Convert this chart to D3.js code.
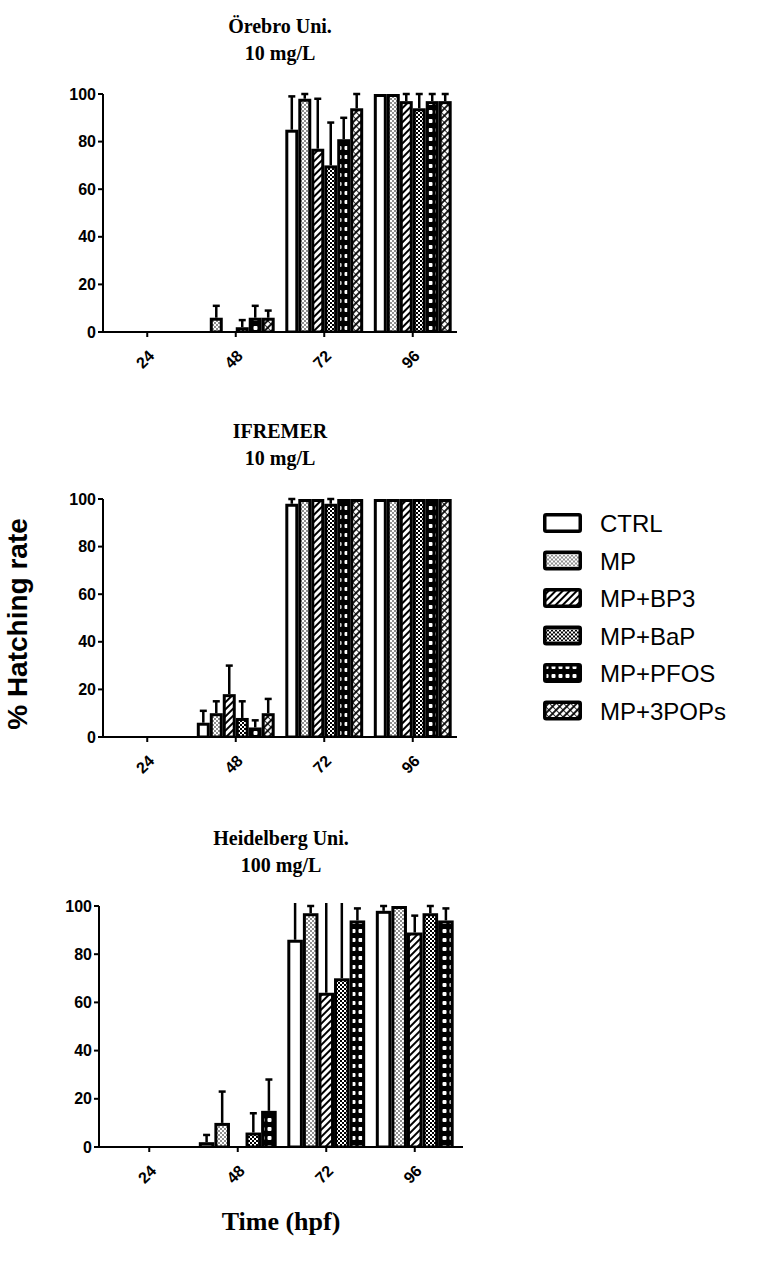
<!DOCTYPE html>
<html>
<head>
<meta charset="utf-8">
<script src="https://cdn.jsdelivr.net/npm/d3@7"></script>
<style>
  body { margin: 0; background: #fff; }
  svg { display: block; }
</style>
</head>
<body>
<svg id="chart" width="765" height="1264"></svg>
<script>
// ─── DATA ───
const TIMES = ['24', '48', '72', '96'];
const TREATMENTS = ['CTRL', 'MP', 'MP+BP3', 'MP+BaP', 'MP+PFOS', 'MP+3POPs'];
const Y_TICKS = [0, 20, 40, 60, 80, 100];

// Örebro Uni. 10 mg/L — mean per treatment across TIMES, and upper error
const orebroMean = [
  [0, 0, 85, 100],
  [0, 6, 98, 100],
  [0, 0, 77, 97],
  [0, 2, 70, 94],
  [0, 6, 81, 97],
  [0, 6, 94, 97]
];
const orebroErr = [
  [0, 0, 14, 0],
  [0, 5, 2, 0],
  [0, 0, 21, 3],
  [0, 3, 18, 6],
  [0, 5, 9, 3],
  [0, 3, 6, 3]
];

// IFREMER 10 mg/L
const ifremerMean = [
  [0, 6, 98, 100],
  [0, 10, 100, 100],
  [0, 18, 100, 100],
  [0, 8, 98, 100],
  [0, 4, 100, 100],
  [0, 10, 100, 100]
];
const ifremerErr = [
  [0, 5, 2, 0],
  [0, 5, 0, 0],
  [0, 12, 0, 0],
  [0, 7, 2, 0],
  [0, 3, 0, 0],
  [0, 6, 0, 0]
];

// Heidelberg Uni. 100 mg/L (no MP+3POPs)
const heidelbergMean = [
  [0, 2, 86, 98],
  [0, 10, 97, 100],
  [0, 0, 64, 89],
  [0, 6, 70, 97],
  [0, 15, 94, 94]
];
const heidelbergErr = [
  [0, 3, 20, 2],
  [0, 13, 3, 0],
  [0, 0, 45, 7],
  [0, 8, 40, 3],
  [0, 13, 5, 5]
];

// ─── LAYOUT ───
const SANS = 'Arial, "Liberation Sans", sans-serif';
const SERIF = '"Times New Roman", "Liberation Serif", serif';
const BAR_STROKE = 3;

const PANELS = [
  { title: ['Örebro Uni.', '10 mg/L'], mean: orebroMean, err: orebroErr, n: 6,
    titleY: 33, top: 94, bottom: 332, axisL: 103, axisR: 457, bandL: 103, bandR: 457 },
  { title: ['IFREMER', '10 mg/L'], mean: ifremerMean, err: ifremerErr, n: 6,
    titleY: 438, top: 499, bottom: 737, axisL: 103, axisR: 457, bandL: 103, bandR: 457 },
  { title: ['Heidelberg Uni.', '100 mg/L'], mean: heidelbergMean, err: heidelbergErr, n: 5,
    titleY: 845, top: 906, bottom: 1147, axisL: 99, axisR: 463, bandL: 105, bandR: 459 }
];

const svg = d3.select('#chart');
svg.append('rect').attr('width', 765).attr('height', 1264).attr('fill', '#fff');

// ─── PATTERNS ───
const defs = svg.append('defs');

const pMP = defs.append('pattern').attr('id', 'pat-1').attr('patternUnits', 'userSpaceOnUse')
  .attr('width', 4).attr('height', 4);
pMP.append('rect').attr('width', 4).attr('height', 4).attr('fill', '#fff');
pMP.append('circle').attr('cx', 1).attr('cy', 1).attr('r', 0.8).attr('fill', '#000');
pMP.append('circle').attr('cx', 3).attr('cy', 3).attr('r', 0.8).attr('fill', '#000');

const pBP3 = defs.append('pattern').attr('id', 'pat-2').attr('patternUnits', 'userSpaceOnUse')
  .attr('width', 5).attr('height', 5).attr('patternTransform', 'rotate(45)');
pBP3.append('rect').attr('width', 5).attr('height', 5).attr('fill', '#fff');
pBP3.append('line').attr('x1', 1).attr('x2', 1).attr('y1', 0).attr('y2', 5)
  .attr('stroke', '#000').attr('stroke-width', 2);

const pBaP = defs.append('pattern').attr('id', 'pat-3').attr('patternUnits', 'userSpaceOnUse')
  .attr('width', 4).attr('height', 4);
pBaP.append('rect').attr('width', 4).attr('height', 4).attr('fill', '#fff');
pBaP.append('rect').attr('width', 2).attr('height', 2).attr('fill', '#000');
pBaP.append('rect').attr('x', 2).attr('y', 2).attr('width', 2).attr('height', 2).attr('fill', '#000');

const pPFOS = defs.append('pattern').attr('id', 'pat-4').attr('patternUnits', 'userSpaceOnUse')
  .attr('width', 7).attr('height', 9);
pPFOS.append('rect').attr('width', 7).attr('height', 9).attr('fill', '#000');
pPFOS.append('rect').attr('x', 1.5).attr('y', 2).attr('width', 4).attr('height', 4)
  .attr('rx', 1).attr('fill', '#fff');

const p3P = defs.append('pattern').attr('id', 'pat-5').attr('patternUnits', 'userSpaceOnUse')
  .attr('width', 5).attr('height', 5).attr('patternTransform', 'rotate(45)');
p3P.append('rect').attr('width', 5).attr('height', 5).attr('fill', '#fff');
p3P.append('line').attr('x1', 1).attr('x2', 1).attr('y1', 0).attr('y2', 5)
  .attr('stroke', '#000').attr('stroke-width', 1.8);
p3P.append('line').attr('x1', 0).attr('x2', 5).attr('y1', 2.5).attr('y2', 2.5)
  .attr('stroke', '#000').attr('stroke-width', 0.8);

const fillFor = i => i === 0 ? '#fff' : `url(#pat-${i})`;

// ─── PANELS ───
PANELS.forEach((p, pi) => {
  const g = svg.append('g');
  const cx = (p.axisL + p.axisR) / 2;

  p.title.forEach((t, k) => {
    g.append('text').attr('x', cx).attr('y', p.titleY + k * 27)
      .attr('text-anchor', 'middle').attr('font-family', SERIF)
      .attr('font-weight', 'bold').attr('font-size', 20).text(t);
  });

  const x = d3.scaleBand().domain(TIMES).range([p.bandL, p.bandR])
    .paddingInner(0.12).paddingOuter(0.06);
  const y = d3.scaleLinear().domain([0, 100]).range([p.bottom, p.top]);
  const xs = d3.scaleBand().domain(d3.range(p.n)).range([0, x.bandwidth()]);

  // clip so error bars above 100 are cut at the top
  const clipId = `clip-${pi}`;
  defs.append('clipPath').attr('id', clipId).append('rect')
    .attr('x', 0).attr('y', p.top - 3).attr('width', 765).attr('height', p.bottom - p.top + 3);

  const bars = [];
  p.mean.forEach((row, si) => row.forEach((v, ti) => {
    bars.push({ s: si, t: TIMES[ti], v, e: p.err[si][ti] });
  }));

  const plot = g.append('g').attr('clip-path', `url(#${clipId})`);

  // error bars (upper only)
  bars.filter(d => d.e > 0).forEach(d => {
    const bx = x(d.t) + xs(d.s) + xs.bandwidth() / 2;
    plot.append('line').attr('x1', bx).attr('x2', bx)
      .attr('y1', y(d.v)).attr('y2', y(d.v + d.e))
      .attr('stroke', '#000').attr('stroke-width', 2.5);
    plot.append('line').attr('x1', bx - 3.5).attr('x2', bx + 3.5)
      .attr('y1', y(d.v + d.e)).attr('y2', y(d.v + d.e))
      .attr('stroke', '#000').attr('stroke-width', 2.5);
  });

  plot.selectAll('rect.bar').data(bars.filter(d => d.v > 0)).enter()
    .append('rect').attr('class', 'bar')
    .attr('x', d => x(d.t) + xs(d.s) + BAR_STROKE / 2)
    .attr('width', xs.bandwidth() - BAR_STROKE)
    .attr('y', d => y(d.v) + BAR_STROKE / 2)
    .attr('height', d => Math.max(0.5, y(0) - y(d.v) - BAR_STROKE / 2))
    .attr('fill', d => fillFor(d.s))
    .attr('stroke', '#000').attr('stroke-width', BAR_STROKE);

  // y axis
  g.append('line').attr('x1', p.axisL).attr('x2', p.axisL)
    .attr('y1', y(0) + 1).attr('y2', y(100))
    .attr('stroke', '#000').attr('stroke-width', 2);
  Y_TICKS.forEach(t => {
    g.append('line').attr('x1', p.axisL - 5).attr('x2', p.axisL)
      .attr('y1', y(t)).attr('y2', y(t)).attr('stroke', '#000').attr('stroke-width', 2);
    g.append('text').attr('x', p.axisL - 7).attr('y', y(t)).attr('dy', '0.35em')
      .attr('text-anchor', 'end').attr('font-family', SANS).attr('font-weight', 'bold')
      .attr('font-size', 16).text(t);
  });

  // x axis
  g.append('line').attr('x1', p.axisL - 1).attr('x2', p.axisR)
    .attr('y1', y(0)).attr('y2', y(0)).attr('stroke', '#000').attr('stroke-width', 2);
  TIMES.forEach(t => {
    const tx = x(t) + x.bandwidth() / 2;
    g.append('line').attr('x1', tx).attr('x2', tx)
      .attr('y1', y(0)).attr('y2', y(0) + 5).attr('stroke', '#000').attr('stroke-width', 2);
    g.append('text').attr('transform', `translate(${tx + 4},${y(0) + 21}) rotate(-45)`)
      .attr('dy', '0.35em').attr('text-anchor', 'end')
      .attr('font-family', SANS).attr('font-weight', 'bold').attr('font-size', 16).text(t);
  });
});

// ─── AXIS TITLES ───
svg.append('text').attr('transform', 'translate(27,624) rotate(-90)')
  .attr('text-anchor', 'middle').attr('font-family', SANS).attr('font-weight', 'bold')
  .attr('font-size', 28).text('% Hatching rate');

svg.append('text').attr('x', 281).attr('y', 1230)
  .attr('text-anchor', 'middle').attr('font-family', SERIF).attr('font-weight', 'bold')
  .attr('font-size', 26).text('Time (hpf)');

// ─── LEGEND ───
const legend = svg.append('g').attr('transform', 'translate(543,513)');
TREATMENTS.forEach((name, i) => {
  const row = legend.append('g').attr('transform', `translate(0,${i * 37.5})`);
  row.append('rect').attr('x', 1.75).attr('y', 1.75).attr('width', 35.5).attr('height', 16.5)
    .attr('rx', 1.5).attr('fill', fillFor(i)).attr('stroke', '#000').attr('stroke-width', 3.5);
  row.append('text').attr('x', 57).attr('y', 19).attr('font-family', SANS)
    .attr('font-size', 24).text(name);
});
</script>
</body>
</html>
